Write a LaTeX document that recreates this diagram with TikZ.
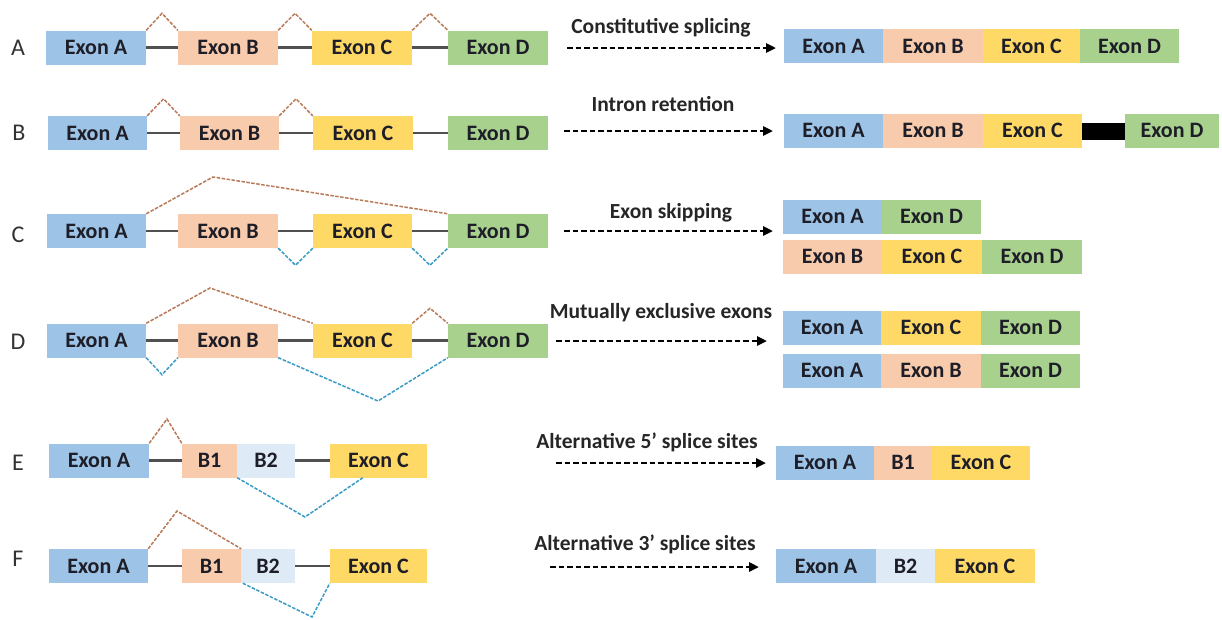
\documentclass[tikz,border=0pt]{standalone}
\usepackage{fontspec}
\setmainfont{Carlito}
\usetikzlibrary{arrows.meta,calc}
\definecolor{exblue}{HTML}{9DC3E6}
\definecolor{exsalmon}{HTML}{F8CBAD}
\definecolor{exyellow}{HTML}{FFD966}
\definecolor{exgreen}{HTML}{A9D18E}
\definecolor{exlight}{HTML}{DEEBF7}
\definecolor{splbrown}{HTML}{B97A57}
\definecolor{splblue}{HTML}{3A9BC4}
\definecolor{introngray}{HTML}{505050}
\definecolor{exontext}{HTML}{1E1E28}
\newcommand{\exn}[6]{\node[exon,fill=#2,minimum width={(#4-#3)}] (#1) at ({(#3+#4)/2},#5) {#6};}
\begin{document}
\begin{tikzpicture}[x=1pt,y=-1pt,
  exon/.style={draw=none,inner sep=0pt,minimum height=34,text=exontext,
    font=\bfseries\fontsize{22}{22}\selectfont},
  rowlabel/.style={text=black!80,font=\fontsize{24}{24}\selectfont,inner sep=0pt},
  arrlabel/.style={text=black!85,font=\bfseries\fontsize{21.5}{21.5}\selectfont,inner sep=0pt},
  intron/.style={draw=introngray,line width=2.2pt},
  donor/.style={draw=splbrown,line width=1.5pt,dash pattern=on 3.5pt off 1.5pt},
  acceptor/.style={draw=splblue,line width=1.5pt,dash pattern=on 3.5pt off 1.5pt},
  arr/.style={draw=black,line width=2.5pt,dash pattern=on 5.5pt off 3pt,
    -{Triangle[length=10pt,width=9pt]}}]
\useasboundingbox (0,0) rectangle (1222,619);
\fill[white] (0,0) rectangle (1222,619);

% ---------- Row labels ----------
\node[rowlabel] (lA) at (18,48) {A};
\node[rowlabel] (lB) at (19,133) {B};
\node[rowlabel] (lC) at (18,235) {C};
\node[rowlabel] (lD) at (18,342) {D};
\node[rowlabel] (lE) at (18,463) {E};
\node[rowlabel] (lF) at (18,559) {F};

% ---------- Row A (left) ----------
\exn{aA}{exblue}{46}{146}{47.5}{Exon A}
\exn{aB}{exsalmon}{178}{278}{47.5}{Exon B}
\exn{aC}{exyellow}{312}{412}{47.5}{Exon C}
\exn{aD}{exgreen}{448}{548}{47.5}{Exon D}
\draw[intron] (aA.east) -- (aB.west) (aB.east) -- (aC.west) (aC.east) -- (aD.west);
\draw[donor] (aA.north east) -- ($(aA.north east)!0.5!(aB.north west)+(0,-17)$) -- (aB.north west);
\draw[donor] (aB.north east) -- ($(aB.north east)!0.5!(aC.north west)+(0,-17)$) -- (aC.north west);
\draw[donor] (aC.north east) -- ($(aC.north east)!0.5!(aD.north west)+(0,-17)$) -- (aD.north west);

% ---------- Row B (left) ----------
\exn{bA}{exblue}{48}{147}{133}{Exon A}
\exn{bB}{exsalmon}{180}{279}{133}{Exon B}
\exn{bC}{exyellow}{313}{413}{133}{Exon C}
\exn{bD}{exgreen}{448}{548}{133}{Exon D}
\draw[intron] (bA.east) -- (bB.west) (bB.east) -- (bC.west) (bC.east) -- (bD.west);
\draw[donor] (bA.north east) -- ($(bA.north east)!0.5!(bB.north west)+(0,-17)$) -- (bB.north west);
\draw[donor] (bB.north east) -- ($(bB.north east)!0.5!(bC.north west)+(0,-17)$) -- (bC.north west);

% ---------- Row C (left) ----------
\exn{cA}{exblue}{47}{146}{231}{Exon A}
\exn{cB}{exsalmon}{178}{278}{231}{Exon B}
\exn{cC}{exyellow}{313}{412}{231}{Exon C}
\exn{cD}{exgreen}{448}{548}{231}{Exon D}
\draw[intron] (cA.east) -- (cB.west) (cB.east) -- (cC.west) (cC.east) -- (cD.west);
\coordinate (cP) at (213,177);
\draw[donor] (cA.north east) -- (cP) -- (cD.north west);
\draw[acceptor] (cB.south east) -- ($(cB.south east)!0.5!(cC.south west)+(0,17)$) -- (cC.south west);
\draw[acceptor] (cC.south east) -- ($(cC.south east)!0.5!(cD.south west)+(0,17)$) -- (cD.south west);

% ---------- Row D (left) ----------
\exn{dA}{exblue}{47}{146}{340.5}{Exon A}
\exn{dB}{exsalmon}{178}{278}{340.5}{Exon B}
\exn{dC}{exyellow}{313}{412}{340.5}{Exon C}
\exn{dD}{exgreen}{448}{548}{340.5}{Exon D}
\draw[intron] (dA.east) -- (dB.west) (dB.east) -- (dC.west) (dC.east) -- (dD.west);
\coordinate (dP1) at (210,288);
\coordinate (dP2) at (378,401);
\draw[donor] (dA.north east) -- (dP1) -- (dC.north west);
\draw[donor] (dC.north east) -- ($(dC.north east)!0.5!(dD.north west)+(0,-15)$) -- (dD.north west);
\draw[acceptor] (dA.south east) -- ($(dA.south east)!0.5!(dB.south west)+(0,17)$) -- (dB.south west);
\draw[acceptor] (dB.south east) -- (dP2) -- (dD.south west);

% ---------- Row E (left) ----------
\exn{eA}{exblue}{49}{149}{460.5}{Exon A}
\exn{eB1}{exsalmon}{182}{237}{460.5}{B1}
\exn{eB2}{exlight}{237}{295}{460.5}{B2}
\exn{eC}{exyellow}{330}{427}{460.5}{Exon C}
\draw[intron] (eA.east) -- (eB1.west) (eB2.east) -- (eC.west);
\coordinate (eP1) at (167,419);
\coordinate (eP2) at (305,517);
\draw[donor] (eA.north east) -- (eP1) -- (eB1.north west);
\draw[acceptor] (eB1.south east) -- (eP2) -- ($(eC.south west)+(33,0)$);

% ---------- Row F (left) ----------
\exn{fA}{exblue}{49}{148}{566}{Exon A}
\exn{fB1}{exsalmon}{182}{241}{566}{B1}
\exn{fB2}{exlight}{241}{295}{566}{B2}
\exn{fC}{exyellow}{330}{427}{566}{Exon C}
\draw[intron] (fA.east) -- (fB1.west) (fB2.east) -- (fC.west);
\coordinate (fP1) at (177,511);
\coordinate (fP2) at (312,617);
\draw[donor] (fA.north east) -- (fP1) -- (fB1.north east);
\draw[acceptor] ($(fB2.south west)+(2,0)$) -- (fP2) -- (fC.south west);

% ---------- Arrows and labels ----------
\node[arrlabel] (tA) at (661,28) {Constitutive splicing};
\coordinate (sA) at (567,48); \coordinate (eA1) at (776,48);
\draw[arr] (sA) -- (eA1);
\node[arrlabel] (tB) at (663,104) {Intron retention};
\coordinate (sB) at (564,131); \coordinate (eB1a) at (773,131);
\draw[arr] (sB) -- (eB1a);
\node[arrlabel] (tC) at (671,213) {Exon skipping};
\coordinate (sC) at (564,231); \coordinate (eC1) at (773,231);
\draw[arr] (sC) -- (eC1);
\node[arrlabel] (tD) at (661,313) {Mutually exclusive exons};
\coordinate (sD) at (556,341); \coordinate (eD1) at (767,341);
\draw[arr] (sD) -- (eD1);
\node[arrlabel] (tE) at (647,442) {Alternative 5’ splice sites};
\coordinate (sE) at (556,463); \coordinate (eE1) at (766,463);
\draw[arr] (sE) -- (eE1);
\node[arrlabel] (tF) at (645,544) {Alternative 3’ splice sites};
\coordinate (sF) at (550,567); \coordinate (eF1) at (759,567);
\draw[arr] (sF) -- (eF1);

% ---------- Results ----------
\exn{rAa}{exblue}{784}{883}{46}{Exon A}
\exn{rAb}{exsalmon}{883}{983}{46}{Exon B}
\exn{rAc}{exyellow}{983}{1080}{46}{Exon C}
\exn{rAd}{exgreen}{1080}{1179}{46}{Exon D}

\exn{rBa}{exblue}{784}{883}{130.5}{Exon A}
\exn{rBb}{exsalmon}{883}{983}{130.5}{Exon B}
\exn{rBc}{exyellow}{983}{1082}{130.5}{Exon C}
\exn{rBd}{exgreen}{1125}{1219}{130.5}{Exon D}
\fill[black] (rBc.east |- 0,123) rectangle (rBd.west |- 0,140);

\exn{rCa}{exblue}{783}{882}{216.5}{Exon A}
\exn{rCd}{exgreen}{882}{981}{216.5}{Exon D}
\exn{rCb2}{exsalmon}{783}{882}{256.5}{Exon B}
\exn{rCc2}{exyellow}{882}{982}{256.5}{Exon C}
\exn{rCd2}{exgreen}{982}{1082}{256.5}{Exon D}

\exn{rDa}{exblue}{783}{881}{327.5}{Exon A}
\exn{rDc}{exyellow}{881}{981}{327.5}{Exon C}
\exn{rDd}{exgreen}{981}{1080}{327.5}{Exon D}
\exn{rDa2}{exblue}{783}{881}{370.5}{Exon A}
\exn{rDb2}{exsalmon}{881}{981}{370.5}{Exon B}
\exn{rDd2}{exgreen}{981}{1080}{370.5}{Exon D}

\exn{rEa}{exblue}{776}{874}{462.5}{Exon A}
\exn{rEb}{exsalmon}{874}{932}{462.5}{B1}
\exn{rEc}{exyellow}{932}{1030}{462.5}{Exon C}

\exn{rFa}{exblue}{776}{876}{566}{Exon A}
\exn{rFb}{exlight}{876}{935}{566}{B2}
\exn{rFc}{exyellow}{935}{1035}{566}{Exon C}
\end{tikzpicture}
\end{document}
